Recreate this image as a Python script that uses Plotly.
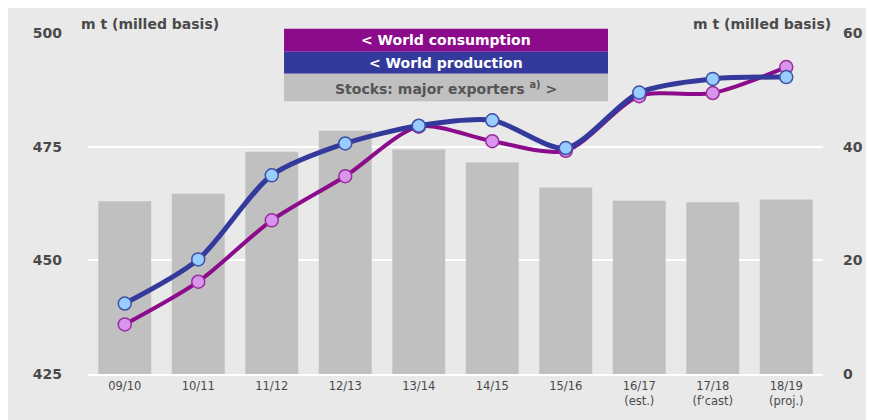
import plotly.graph_objects as go

# marketing years and values
seasons = ["09/10", "10/11", "11/12", "12/13", "13/14", "14/15", "15/16",
           "16/17<br>(est.)", "17/18<br>(f’cast)", "18/19<br>(proj.)"]
consumption = [435.9, 445.3, 458.8, 468.5, 479.4, 476.2, 474.1, 486.1, 486.8, 492.5]
production = [440.5, 450.2, 468.7, 475.7, 479.6, 480.8, 474.7, 486.9, 489.9, 490.3]
stocks = [30.4, 31.7, 39.1, 42.8, 39.5, 37.2, 32.8, 30.5, 30.2, 30.7]

left_ticks = [425, 450, 475, 500]
right_ticks = [0, 20, 40, 60]

BG = "#e9e9e9"
PURPLE = "#8b0b8b"
BLUE = "#343a9c"
GREY_BAR = "#c0c0c0"
TXT = "#4a4a4a"
FONT = "DejaVu Sans"

fig = go.Figure()

# stocks on the base axis (drawn first, under the lines)
fig.add_trace(go.Bar(x=seasons, y=stocks, marker_color=GREY_BAR,
                     marker_line_width=0, width=0.72, yaxis="y"))

fig.add_trace(go.Scatter(
    x=seasons, y=consumption, yaxis="y2", mode="lines+markers",
    line=dict(color=PURPLE, width=4, shape="spline", smoothing=0.8),
    marker=dict(size=13, color="#d994ee", line=dict(color="#9a2f9a", width=1.5))))

fig.add_trace(go.Scatter(
    x=seasons, y=production, yaxis="y2", mode="lines+markers",
    line=dict(color=BLUE, width=5, shape="spline", smoothing=0.8),
    marker=dict(size=13, color="#99ccff", line=dict(color="#3f4fa6", width=1.5))))

# the page body adds 8px on the left/top, so the figure is a bit smaller
fig.update_layout(
    width=866, height=412,
    margin=dict(l=80, r=51, t=25, b=46),
    paper_bgcolor=BG, plot_bgcolor=BG,
    showlegend=False, bargap=0.28,
    font=dict(family=FONT, color=TXT),
    xaxis=dict(showgrid=False, showline=True, linecolor="white", linewidth=2,
               ticks="", tickfont=dict(size=11.5, color=TXT),
               range=[-0.5, 9.5], fixedrange=True),
    yaxis=dict(side="right", range=[0, 60], tickvals=right_ticks,
               showgrid=True, gridcolor="white", gridwidth=2, zeroline=False,
               ticks="", ticklabelstandoff=19,
               tickfont=dict(size=14, color=TXT, weight="bold")),
    yaxis2=dict(overlaying="y", side="left", range=[425, 500], tickvals=left_ticks,
                showgrid=False, zeroline=False, ticks="", ticklabelstandoff=25,
                tickfont=dict(size=14, color=TXT, weight="bold")),
)

# legend boxes (stacked bands)
bx0, bx1 = 0.2667, 0.7075
bands = [(0.9452, 1.0126, PURPLE), (0.8806, 0.9452, BLUE), (0.800, 0.8806, GREY_BAR)]
for y0, y1, col in bands:
    fig.add_shape(type="rect", xref="paper", yref="paper", x0=bx0, x1=bx1,
                  y0=y0, y1=y1, fillcolor=col, line_width=0, layer="above")

labels = [("< World consumption", 0.979, "white"),
          ("< World production", 0.913, "white"),
          ("Stocks: major exporters <sup>a)</sup> >", 0.84, "#555555")]
for txt, yy, col in labels:
    fig.add_annotation(text=txt, xref="paper", yref="paper", x=0.487, y=yy,
                       xanchor="center", yanchor="middle", showarrow=False,
                       font=dict(size=14, color=col, family=FONT, weight="bold"))

fig.add_annotation(text="m t (milled basis)", xref="paper", yref="paper",
                   x=-0.0122, y=1.027, xanchor="left", yanchor="middle",
                   showarrow=False, font=dict(size=14, color=TXT, weight="bold"))
fig.add_annotation(text="m t (milled basis)", xref="paper", yref="paper",
                   x=1.0136, y=1.025, xanchor="right", yanchor="middle",
                   showarrow=False, font=dict(size=14, color=TXT, weight="bold"))

fig.write_html("out.html")
